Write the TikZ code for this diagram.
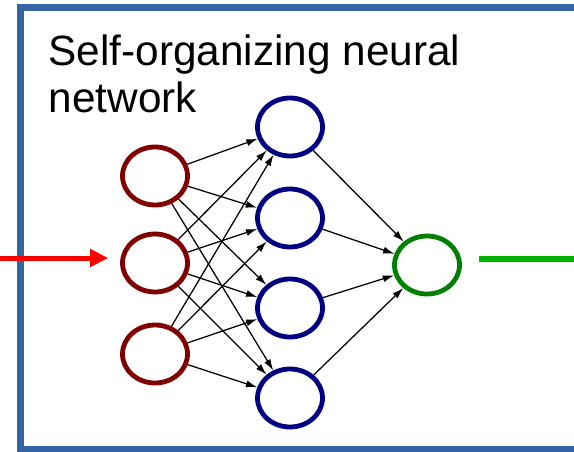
\documentclass[tikz,border=0pt]{standalone}
\usepackage{fontspec}
\setmainfont{Liberation Sans}
\usetikzlibrary{arrows.meta,positioning,shapes.geometric}
\definecolor{marco}{HTML}{3465A4}
\definecolor{rojo}{HTML}{800000}
\definecolor{azul}{HTML}{000080}
\definecolor{verde}{HTML}{008000}

\begin{document}
\begin{tikzpicture}[->, >={Latex[length=8pt,width=5pt]}, line width=0.9pt,
  neurona/.style={ellipse, line width=0.12cm, minimum width=1.625cm, minimum height=1.45cm, inner sep=0pt},
  innode/.style={neurona, draw=rojo},
  hidnode/.style={neurona, draw=azul},
  outnode/.style={neurona, draw=verde}]
  \clip (0,0) rectangle (14.35,11.275);

  % Marco
  \draw[-, marco, line width=0.175cm] (0.5125,0.05) rectangle (15,11.0875);
  \node[anchor=base west, align=left, inner sep=0pt,
    font=\fontsize{30.1pt}{33.4pt}\selectfont] (titulo) at (1.2,8.475)
    {Self-organizing neural\\network};

  % Nodos
  \node[innode] (x1) at (3.875,6.875) {};
  \node[innode] (x2) at (3.875,4.7) {};
  \node[innode] (x3) at (3.875,2.425) {};

  \node[hidnode] (h1) at (7.25,8.1) {};
  \node[hidnode] (h2) at (7.25,5.825) {};
  \node[hidnode] (h3) at (7.25,3.575) {};
  \node[hidnode] (h4) at (7.25,1.325) {};

  \node[outnode] (y) at (10.675,4.65) {};

  % Conexiones
  \draw (x1) -- (h1);
  \draw (x1) -- (h2);
  \draw (x1) -- (h3);
  \draw (x1) -- (h4);
  \draw (x2) -- (h1);
  \draw (x2) -- (h2);
  \draw (x2) -- (h3);
  \draw (x2) -- (h4);
  \draw (x3) -- (h1);
  \draw (x3) -- (h2);
  \draw (x3) -- (h3);
  \draw (x3) -- (h4);

  \draw (h1) -- (y);
  \draw (h2) -- (y);
  \draw (h3) -- (y);
  \draw (h4) -- (y);

  % Entrada y salida
  \coordinate (entra) at (0,4.825);
  \coordinate (sale) at (14.6,4.8);
  \draw[-{Triangle[length=0.45cm,width=0.43cm]}, red, line width=0.125cm, shorten >=0.3cm]
    (entra) -- (entra -| x2.west);
  \draw[-, green!70!black, line width=0.15cm, shorten <=0.425cm]
    (sale -| y.east) -- (sale);
\end{tikzpicture}
\end{document}
